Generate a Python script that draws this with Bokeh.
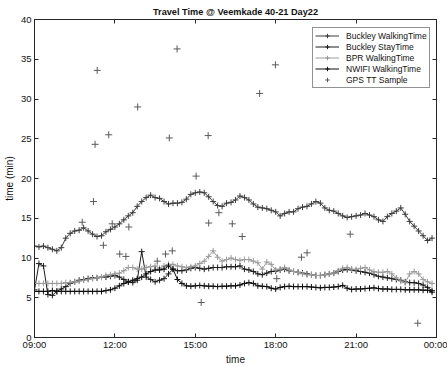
from bokeh.plotting import figure
from bokeh.models import FixedTicker, LinearAxis, Range1d, Legend, LegendItem, ColumnDataSource
from bokeh.embed import file_html
from bokeh.resources import INLINE

# ---------------- data ----------------
start_hour = 9.0
step_minutes = 10

buckley_walking = [
    11.5, 11.4, 11.5, 11.3, 11.1, 10.9, 11.3, 12.5, 13.1, 13.4,
    13.5, 13.8, 13.4, 13.0, 12.7, 12.8, 13.3, 13.6, 13.9, 14.3,
    14.8, 15.3, 15.7, 16.5, 17.1, 17.6, 17.9, 17.6, 17.5, 17.1,
    16.8, 16.9, 16.9, 17.0, 17.4, 18.0, 18.2, 18.3, 18.2, 17.7,
    17.1, 16.6, 16.5, 16.9, 17.0, 17.3, 17.8, 17.6, 17.3, 16.8,
    16.4, 16.3, 16.2, 16.0, 15.8, 15.3, 15.6, 15.8, 15.8, 16.2,
    16.4, 16.5, 16.8, 17.1, 16.9, 16.3, 16.0, 15.9, 15.6, 15.3,
    15.1, 15.2, 15.3, 15.4, 15.6, 15.4, 15.2, 14.8, 14.6, 15.2,
    15.6, 15.9, 16.3, 15.5, 14.6, 14.0, 13.4, 12.8, 12.2, 12.5,
]

buckley_stay = [
    6.0, 9.3, 9.0, 5.4, 5.3, 5.8, 6.1, 6.4, 6.8, 7.0,
    7.2, 7.3, 7.4, 7.5, 7.5, 7.6, 7.6, 7.7, 7.8, 7.6,
    7.3, 7.0, 6.9, 7.2, 10.8, 7.6, 7.3, 7.0, 7.2, 7.4,
    8.0, 8.6, 8.4, 8.4, 8.5, 8.7, 8.8, 8.7, 8.6, 8.7,
    8.8, 8.8, 8.8, 8.9, 8.9, 8.9, 9.0, 8.6, 8.5, 8.3,
    8.0, 7.9, 8.1, 8.3, 8.35, 8.5, 8.6, 8.4, 8.3, 8.2,
    8.1, 8.0, 7.9, 7.8, 7.8, 7.9, 8.0, 8.1, 8.3, 8.5,
    8.55, 8.5, 8.4, 8.3, 8.2, 8.1, 7.9, 7.7, 7.6, 7.5,
    7.4, 7.3, 7.2, 7.0, 6.9, 6.9, 6.8, 6.6, 6.3, 5.9,
]

bpr_walking = [
    6.8, 6.8, 6.8, 6.8, 6.8, 6.8, 6.8, 6.9, 6.9, 7.0,
    7.1, 7.2, 7.3, 7.4, 7.5, 7.6, 7.8, 7.9, 8.0, 8.1,
    8.4, 8.8, 8.8, 8.6, 8.6, 8.8, 8.9, 9.0, 8.7, 9.0,
    9.2, 9.2, 9.0, 8.9, 8.8, 8.9, 9.0, 9.3, 9.6, 10.2,
    10.9, 10.1, 9.6, 9.8, 10.0, 9.8, 9.7, 9.8, 9.8, 9.6,
    9.4, 8.6, 9.5, 9.2, 8.5, 8.6, 8.8, 8.5, 8.3, 8.2,
    8.0, 7.9, 7.9, 7.8, 7.8, 7.9, 8.0, 8.1, 8.4, 8.7,
    8.8, 8.6, 8.55, 8.7, 8.8, 8.5, 8.3, 8.2, 8.2, 8.3,
    8.0, 7.5, 7.1, 6.9, 8.0, 8.3, 8.0, 7.3, 7.0, 6.8,
]

nwifi_walking = [
    5.8, 5.8, 5.8, 5.8, 5.9, 5.8, 5.8, 5.8, 5.8, 5.8,
    5.8, 5.8, 5.8, 5.8, 5.8, 5.8, 5.9, 6.0, 6.2, 6.5,
    6.8, 7.0, 7.2, 7.4, 7.6, 8.0, 8.3, 8.5, 8.5, 8.6,
    9.0, 8.6, 7.3, 6.8, 6.5, 6.45, 6.5, 6.55, 6.5, 6.45,
    6.45, 6.4, 6.45, 6.45, 6.5, 6.5, 6.6, 6.8, 6.9, 6.8,
    6.5, 6.45, 6.4, 6.2, 6.1, 6.3, 6.4, 6.45, 6.4, 6.4,
    6.4, 6.4, 6.35, 6.3, 6.25, 6.3, 6.3, 6.35, 6.4, 6.55,
    6.2, 6.05, 6.1, 6.1, 6.15, 6.2, 6.25, 6.15, 6.1, 6.1,
    6.05, 6.05, 6.05, 6.0, 6.0, 6.0, 6.0, 5.95, 5.95, 5.7,
]

gps_hour = [11.26, 11.34, 11.77, 12.85, 14.03, 14.32, 15.03, 15.48, 17.40, 17.99,
            10.78, 11.20, 11.90, 12.52, 11.57, 12.18, 12.41, 13.58, 13.89, 14.14,
            15.50, 15.88, 16.38, 16.75, 18.04, 15.22, 18.96, 19.17, 20.78, 23.30]
gps_tt = [24.3, 33.6, 25.5, 29.0, 25.1, 36.3, 20.3, 25.4, 30.7, 34.3,
          14.5, 17.1, 14.3, 13.9, 11.6, 10.5, 10.2, 9.6, 10.5, 10.9,
          14.4, 15.7, 14.3, 12.7, 7.4, 4.4, 10.1, 10.65, 13.0, 1.8]

x_ticks = [9, 12, 15, 18, 21, 24]
x_tick_labels = ["09:00", "12:00", "15:00", "18:00", "21:00", "00:00"]
y_ticks = [0, 5, 10, 15, 20, 25, 30, 35, 40]

title_text = "Travel Time @ Veemkade 40-21 Day22"
series_names = ["Buckley WalkingTime", "Buckley StayTime", "BPR WalkingTime", "NWIFI WalkingTime"]
gps_name = "GPS TT Sample"

# ---------------- figure ----------------
FONT = "Liberation Sans"
AX = "#262626"

n = len(buckley_walking)
hours = [start_hour + i * step_minutes / 60.0 for i in range(n)]

p = figure(frame_width=402, frame_height=318, x_range=Range1d(9, 24), y_range=Range1d(0, 40),
           output_backend="svg", toolbar_location=None,
           min_border_left=27, min_border_right=11, min_border_top=19, min_border_bottom=22)
p.grid.visible = False
p.outline_line_color = AX
p.outline_line_width = 1
p.background_fill_color = "white"
p.border_fill_color = "white"

def style_axis(ax, ticks, fs="9.5px"):
    ax.ticker = FixedTicker(ticks=ticks)
    ax.minor_tick_line_color = None
    ax.major_tick_in = 4
    ax.major_tick_out = 0
    ax.axis_line_color = AX
    ax.major_tick_line_color = AX
    ax.major_label_text_font = FONT
    ax.major_label_text_font_size = fs
    ax.major_label_text_color = "#111111"
    ax.axis_label_text_font = FONT
    ax.axis_label_text_font_size = "10px"
    ax.axis_label_text_font_style = "normal"
    ax.axis_label_text_color = "#111111"

xa = p.xaxis[0]
style_axis(xa, x_ticks)
xa.major_label_overrides = {t: s for t, s in zip(x_ticks, x_tick_labels)}
xa.axis_label = "time"
xa.major_label_standoff = 1
xa.axis_label_standoff = 1

ya = p.yaxis[0]
style_axis(ya, y_ticks)
ya.axis_label = "time (min)"
ya.major_label_standoff = 3
ya.axis_label_standoff = 3

# frame ticks on the right and top sides (no tick labels)
ra = LinearAxis()
style_axis(ra, y_ticks)
ra.major_label_overrides = {t: "" for t in y_ticks}
ra.major_label_text_color = None
ra.major_label_standoff = 0
p.add_layout(ra, "right")

ta = LinearAxis()
style_axis(ta, x_ticks)
ta.major_label_overrides = {t: "" for t in x_ticks}
ta.major_label_text_color = None
ta.major_label_standoff = 0
ta.axis_label = title_text
ta.axis_label_text_font_style = "bold"
ta.axis_label_text_font_size = "9.2px"
ta.axis_label_standoff = 3
p.add_layout(ta, "above")

colors = ["#3c3c3c", "#1e1e1e", "#9a9a9a", "#0e0e0e"]
data = [buckley_walking, buckley_stay, bpr_walking, nwifi_walking]
items = []
for name, vals, col in zip(series_names, data, colors):
    src = ColumnDataSource(dict(x=hours, y=vals))
    lr = p.line("x", "y", source=src, line_color=col, line_width=1)
    sr = p.scatter("x", "y", source=src, marker="cross", size=6, line_color=col, line_width=1)
    items.append(LegendItem(label=name, renderers=[lr, sr]))

gsrc = ColumnDataSource(dict(x=gps_hour, y=gps_tt))
gr = p.scatter("x", "y", source=gsrc, marker="cross", size=7, line_color="#5a5a5a", line_width=1)
items.append(LegendItem(label=gps_name, renderers=[gr]))

legend = Legend(items=items, location=(278, 249))
legend.margin = 0
legend.padding = 2
legend.spacing = 0
legend.label_height = 11
legend.glyph_height = 11
legend.glyph_width = 24
legend.label_standoff = 7
legend.label_text_font = FONT
legend.label_text_font_size = "8.5px"
legend.label_text_color = "#111111"
legend.border_line_color = AX
legend.border_line_width = 1
legend.background_fill_color = "white"
legend.background_fill_alpha = 1.0
p.add_layout(legend)

open("out.html", "w").write(file_html(p, INLINE))
